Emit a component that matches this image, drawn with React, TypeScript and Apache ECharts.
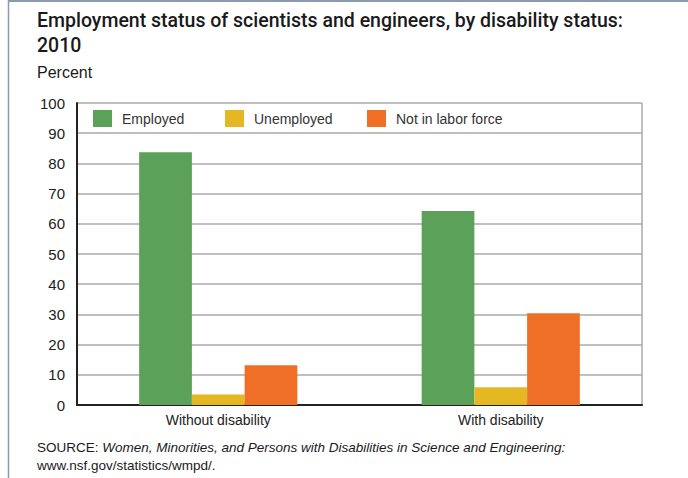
import React, { useEffect, useRef } from "react";
import * as echarts from "echarts";

const categories = ["Without disability", "With disability"];
const seriesNames = ["Employed", "Unemployed", "Not in labor force"];
const employed = [83.7, 64.2];
const unemployed = [3.5, 5.9];
const notInLaborForce = [13.2, 30.4];
const yTicks = [0, 10, 20, 30, 40, 50, 60, 70, 80, 90, 100];
const colors = ["#5ba15a", "#e5b823", "#f06f27"];

const FONT = '"Liberation Sans", sans-serif';
const TITLE_FONT = 'Roboto, "Liberation Sans", sans-serif';

export default function App() {
  const ref = useRef<HTMLDivElement>(null);
  useEffect(() => {
    if (!ref.current) return;
    const chart = echarts.init(ref.current, null, { renderer: "svg" });
    const values = [employed, unemployed, notInLaborForce];
    const legendPos = [93, 225, 367];
    chart.setOption({
      animation: false,
      backgroundColor: "#ffffff",
      textStyle: { fontFamily: FONT },
      grid: { left: 77, right: 46, top: 103, bottom: 73 },
      legend: seriesNames.map((n, i) => ({
        data: [n],
        left: legendPos[i],
        top: 110,
        itemWidth: 19,
        itemHeight: 17,
        itemGap: 0,
        padding: 0,
        icon: "rect",
        textStyle: { fontFamily: FONT, fontSize: 14, color: "#333", padding: [0, 0, 0, 5] },
      })),
      xAxis: {
        type: "category",
        data: categories,
        axisLine: { show: true, lineStyle: { color: "#222", width: 2 } },
        axisTick: { show: false },
        axisLabel: { fontFamily: FONT, fontSize: 14, color: "#222", margin: 8 },
      },
      yAxis: {
        type: "value",
        min: 0,
        max: 100,
        interval: 10,
        axisLine: { show: true, lineStyle: { color: "#222", width: 2 } },
        axisTick: { show: false },
        axisLabel: {
          fontFamily: FONT,
          fontSize: 15,
          color: "#222",
          margin: 12,
          formatter: (v: number) => (yTicks.includes(v) ? String(v) : ""),
        },
        splitLine: { show: true, lineStyle: { color: "#aaaaaa", width: 1.5 } },
      },
      series: seriesNames.map((n, i) => ({
        name: n,
        type: "bar",
        data: values[i],
        barGap: "0%",
        barCategoryGap: "44%",
        itemStyle: { color: colors[i] },
      })),
      graphic: [
        { type: "line", shape: { x1: 8, y1: 1, x2: 688, y2: 1 }, style: { stroke: "#8a9ab4", lineWidth: 2 } },
        { type: "line", shape: { x1: 8.5, y1: 0, x2: 8.5, y2: 478 }, style: { stroke: "#8a9ab4", lineWidth: 1.5 } },
        { type: "line", shape: { x1: 642, y1: 103, x2: 642, y2: 405 }, style: { stroke: "#aaaaaa", lineWidth: 1.5 } },
        {
          type: "text",
          left: 37,
          top: 10,
          style: {
            text: "Employment status of scientists and engineers, by disability status:",
            font: `500 19.5px ${TITLE_FONT}`,
            fill: "#1a1a1a",
          },
        },
        { type: "text", left: 37, top: 35, style: { text: "2010", font: `500 19.5px ${TITLE_FONT}`, fill: "#1a1a1a" } },
        { type: "text", left: 37, top: 64, style: { text: "Percent", font: `16px ${FONT}`, fill: "#1a1a1a" } },
        {
          type: "text",
          left: 37,
          top: 440,
          style: {
            text: "{n|SOURCE: }{i|Women, Minorities, and Persons with Disabilities in Science and Engineering:}\n{n|www.nsf.gov/statistics/wmpd/.}",
            rich: {
              n: { font: `13.5px ${FONT}`, fill: "#1a1a1a", lineHeight: 18 },
              i: { font: `italic 13.5px ${FONT}`, fill: "#1a1a1a", lineHeight: 18 },
            },
          },
        },
      ],
    });
    return () => chart.dispose();
  }, []);
  return (
    <div
      ref={ref}
      style={{ position: "fixed", left: 0, top: 0, width: 688, height: 478 }}
    />
  );
}
